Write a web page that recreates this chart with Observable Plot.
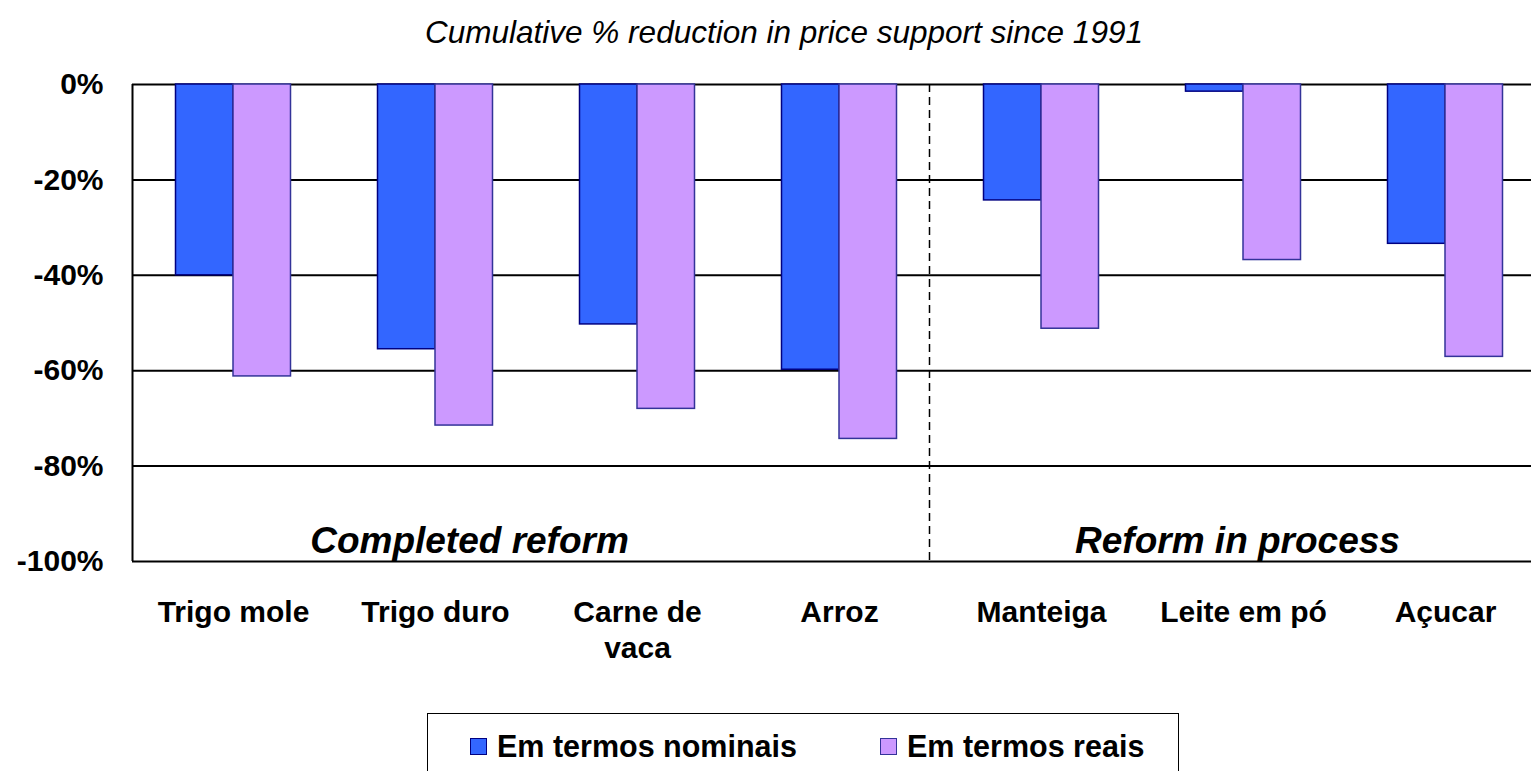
<!DOCTYPE html>
<html>
<head>
<meta charset="utf-8">
<script src="https://cdn.jsdelivr.net/npm/d3@7"></script>
<script src="https://cdn.jsdelivr.net/npm/@observablehq/plot@0.6"></script>
<style>
  html, body { margin: 0; padding: 0; background: #fff; overflow: hidden; width: 1531px; height: 771px; }
  body { position: relative; font-family: "Liberation Sans", Arial, sans-serif; }
  #title { position: absolute; left: 0; top: 17px; width: 1568px; text-align: center; font-style: italic; font-size: 31.5px; line-height: 31.5px; color: #000; }
  #chart { position: absolute; left: 0; top: 0; width: 1546px; }
  #chart svg { max-width: none !important; }
  #legend { position: absolute; left: 427px; top: 713px; width: 752px; height: 80px; border: 1.5px solid #000; box-sizing: border-box; }
  .item { position: absolute; top: 17px; font-weight: bold; font-size: 30.5px; line-height: 30px; white-space: nowrap; }
  .sw { position: absolute; top: 7px; width: 15px; height: 15px; }
</style>
</head>
<body>
<div id="title"></div>
<div id="chart"></div>
<div id="legend"></div>
<script>
const title = "Cumulative % reduction in price support since 1991";
const categories = ["Trigo mole", "Trigo duro", "Carne de vaca", "Arroz", "Manteiga", "Leite em pó", "Açucar"];
const categoryLabels = ["Trigo mole", "Trigo duro", "Carne de\nvaca", "Arroz", "Manteiga", "Leite em pó", "Açucar"];
const seriesNames = ["Em termos nominais", "Em termos reais"];
const nominal = [-40, -55.5, -50.3, -59.8, -24.3, -1.5, -33.4];
const real = [-61.2, -71.5, -68.0, -74.3, -51.2, -36.8, -57.1];
const yTicks = [0, -20, -40, -60, -80, -100];
const groupLabels = ["Completed reform", "Reform in process"];
const groupAnchors = ["Trigo duro", "Leite em pó"];

const colors = {fill: ["#3366FF", "#CC99FF"], stroke: ["#000080", "#333399"]};
const groupOffsets = [34, -6];

document.getElementById("title").textContent = title;

const nomData = categories.map((c, i) => ({cat: c, value: nominal[i]}));
const realData = categories.map((c, i) => ({cat: c, value: real[i]}));
const labelData = categories.map((c, i) => ({cat: c, label: categoryLabels[i]}));
const groupData = groupLabels.map((g, i) => ({cat: groupAnchors[i], label: g}));

const plot = Plot.plot({
  width: 1546,
  height: 700,
  marginLeft: 132,
  marginRight: 0,
  marginTop: 84,
  marginBottom: 139,
  style: {fontFamily: "'Liberation Sans', Arial, sans-serif", background: "transparent", maxWidth: "none"},
  x: {domain: categories, padding: 0, axis: null},
  y: {domain: [-100, 0], axis: null, label: null},
  marks: [
    Plot.ruleY(yTicks, {stroke: "#000", strokeWidth: 2}),
    Plot.ruleX([categories[0]], {dx: -101, y1: 0, y2: -100, stroke: "#000", strokeWidth: 2}),
    Plot.ruleX([categories[3]], {dx: 90, y1: 0, y2: -100, stroke: "#000", strokeWidth: 1.5, strokeDasharray: "8,5"}),
    Plot.barY(nomData, {x: "cat", y: "value", insetLeft: 43.5, insetRight: 101, fill: colors.fill[0], stroke: colors.stroke[0], strokeWidth: 1.5}),
    Plot.barY(realData, {x: "cat", y: "value", insetLeft: 101, insetRight: 43.5, fill: colors.fill[1], stroke: colors.stroke[1], strokeWidth: 1.5}),
    Plot.axisY({ticks: yTicks, label: null, tickSize: 0, tickPadding: 29, tickFormat: d => d + "%", fontSize: 30, fontWeight: "bold", fill: "#000"}),
    Plot.text(labelData, {x: "cat", text: "label", frameAnchor: "bottom", dy: 35, lineAnchor: "top", lineHeight: 1.2, fontSize: 30, fontWeight: "bold", fill: "#000"}),
    ...groupData.map((d, i) => Plot.text([d], {x: "cat", text: "label", frameAnchor: "bottom", dx: groupOffsets[i], dy: -9, lineAnchor: "bottom", fontSize: 37, fontWeight: "bold", fontStyle: "italic", fill: "#000"}))
  ]
});
document.getElementById("chart").appendChild(plot);

const legend = document.getElementById("legend");
const legendX = [42, 452];
seriesNames.forEach((name, i) => {
  const it = document.createElement("div");
  it.className = "item";
  it.style.left = legendX[i] + "px";
  it.innerHTML = `<span class="sw" style="left:0;background:${colors.fill[i]};border:1.5px solid ${colors.stroke[i]}"></span><span style="margin-left:27px">${name}</span>`;
  legend.appendChild(it);
});
</script>
</body>
</html>
